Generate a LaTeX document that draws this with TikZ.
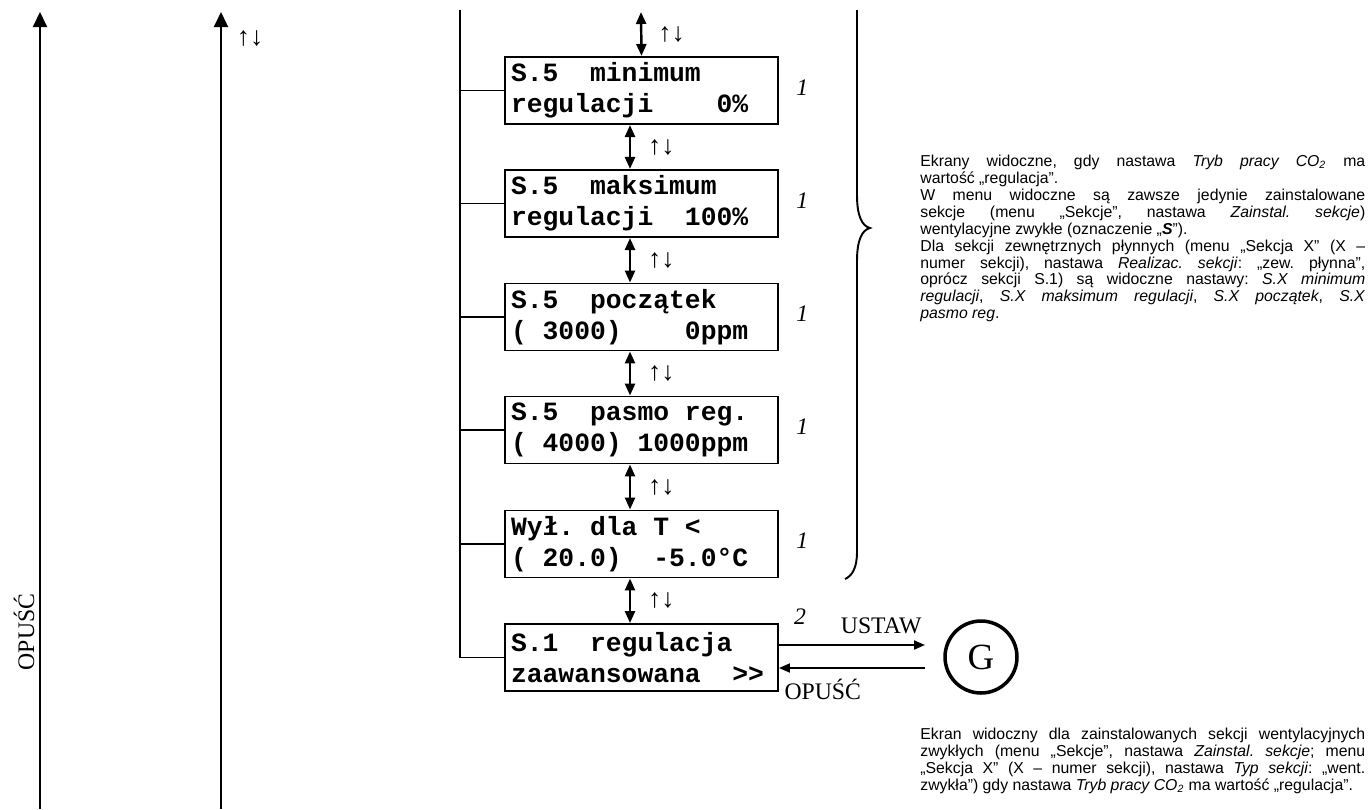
\documentclass[tikz,border=0pt]{standalone}
\usepackage{fontspec}
\setmainfont{Liberation Serif}
\newfontfamily\lcdfont{Liberation Mono}
\newfontfamily\notefont{Liberation Sans}
\usetikzlibrary{arrows.meta,positioning}
\newcommand{\lcdsp}{\hphantom{0}}
\tolerance=10000
\frenchspacing

\begin{document}
\begin{tikzpicture}[x=0.02cm, y=-0.02cm,
    screen/.style={draw, line width=1.1pt, minimum width=5.46cm, minimum height=1.34cm, text width=5.22cm, inner xsep=0.12cm, align=left, font=\lcdfont\bfseries\fontsize{15}{17.5}\selectfont},
    updown/.style={{Triangle[length=0.24cm, width=0.2cm]}-{Triangle[length=0.24cm, width=0.2cm]}, line width=1.4pt},
    uparrow/.style={-{Triangle[length=0.3cm, width=0.28cm]}, line width=1.1pt},
    keyarrow/.style={-{Triangle[length=0.22cm, width=0.18cm]}, line width=1.1pt},
    dirs/.style={inner sep=0pt, font=\fontsize{15}{15}\selectfont},
    num/.style={inner sep=0pt, font=\itshape\fontsize{13.5}{13.5}\selectfont},
    keylbl/.style={inner sep=0pt, font=\fontsize{13.5}{13.5}\selectfont},
    note/.style={text width=8.9cm, align=justify, inner sep=0pt, font=\notefont\fontsize{9}{9.6}\selectfont}
]
\useasboundingbox (0,0) rectangle (1370,809);

% outer columns
\coordinate (o1b) at (40,809);
\coordinate (o1t) at (40,12);
\coordinate (o2b) at (221,809);
\coordinate (o2t) at (221,12);
\draw[uparrow] (o1b) -- (o1t);
\draw[uparrow] (o2b) -- (o2t);
\node[keylbl, rotate=90] (opl) at (24,632) {OPUŚĆ};
\node[dirs] (ud0) at (250,38) {↑↓};

% screens
\node[screen] (s1) at (641.5,90.5) {S.5\lcdsp\lcdsp minimum\\regulacji\lcdsp\lcdsp\lcdsp\lcdsp 0\%};
\node[screen] (s2) at (641.5,203.5) {S.5\lcdsp\lcdsp maksimum\\regulacji\lcdsp\lcdsp 100\%};
\node[screen] (s3) at (641.5,317) {S.5\lcdsp\lcdsp początek\\(\lcdsp 3000)\lcdsp\lcdsp\lcdsp\lcdsp 0ppm};
\node[screen] (s4) at (641.5,430) {S.5\lcdsp\lcdsp pasmo\lcdsp reg.\\(\lcdsp 4000)\lcdsp 1000ppm};
\node[screen] (s5) at (641.5,544) {Wył.\lcdsp dla\lcdsp T\lcdsp <\\(\lcdsp 20.0)\lcdsp\lcdsp -5.0°C};
\node[screen] (s6) at (641.5,657.5) {S.1\lcdsp\lcdsp regulacja\\zaawansowana\lcdsp\lcdsp >{}>};

% up/down between screens
\coordinate (top) at (641,12);
\coordinate (vx) at (630,0);
\draw[updown] (top) -- node[dirs, right=0.32cm] {↑↓} (s1.north);
\draw[updown] (s1.south -| vx) -- node[dirs, right=0.34cm] {↑↓} (s2.north -| vx);
\draw[updown] (s2.south -| vx) -- node[dirs, right=0.34cm] {↑↓} (s3.north -| vx);
\draw[updown] (s3.south -| vx) -- node[dirs, right=0.34cm] {↑↓} (s4.north -| vx);
\draw[updown] (s4.south -| vx) -- node[dirs, right=0.34cm] {↑↓} (s5.north -| vx);
\draw[updown] (s5.south -| vx) -- node[dirs, right=0.34cm] {↑↓} (s6.north -| vx);

% left bus
\coordinate (bus) at (460,10);
\draw[line width=1.1pt] (bus) |- (s6.west);
\draw[line width=1.1pt] (s1.west) -- (s1.west -| bus);
\draw[line width=1.1pt] (s2.west) -- (s2.west -| bus);
\draw[line width=1.1pt] (s3.west) -- (s3.west -| bus);
\draw[line width=1.1pt] (s4.west) -- (s4.west -| bus);
\draw[line width=1.1pt] (s5.west) -- (s5.west -| bus);

% footnote marks
\node[num, right=0.34cm of s1, yshift=0.06cm] (f1) {1};
\node[num, right=0.34cm of s2, yshift=0.06cm] (f2) {1};
\node[num, right=0.34cm of s3, yshift=0.06cm] (f3) {1};
\node[num, right=0.34cm of s4, yshift=0.06cm] (f4) {1};
\node[num, right=0.34cm of s5, yshift=0.06cm] (f5) {1};
\node[num] (f6) at (800,617) {2};

% brace
\draw[line width=1.1pt] (857,10) -- (857,195) .. controls (857,216) and (862,226) .. (870,228)
    .. controls (862,230) and (857,240) .. (857,261) -- (857,552) .. controls (857,568) and (852,576) .. (845,579);

% G screen
\node[circle, draw, line width=2pt, minimum size=1.44cm, inner sep=0pt, font=\fontsize{21}{21}\selectfont] (g) at (981,657) {G};
\coordinate (go) at (925,645);
\coordinate (back) at (925,668);
\draw[keyarrow] (s6.east |- go) -- node[keylbl, pos=0.7, above=0.2cm] {USTAW} (go);
\draw[keyarrow] (back) -- node[keylbl, pos=0.7, below=0.2cm] {OPUŚĆ} (s6.east |- back);

% notes
\node[note, anchor=north west] (n1) at (920,155) {Ekrany widoczne, gdy nastawa \textit{Tryb pracy CO\textsubscript{2}} ma\linebreak
wartość „regulacja”.\par
W menu widoczne są zawsze jedynie zainstalowane\linebreak
sekcje (menu „Sekcje”, nastawa \textit{Zainstal. sekcje})\linebreak
wentylacyjne zwykłe (oznaczenie „\textbf{\textit{S}}”).\par
Dla sekcji zewnętrznych płynnych (menu „Sekcja X” (X –\linebreak
numer sekcji), nastawa \textit{Realizac. sekcji}: „zew. płynna”,\linebreak
oprócz sekcji S.1) są widoczne nastawy: \textit{S.X minimum}\linebreak
\textit{regulacji}, \textit{S.X maksimum regulacji}, \textit{S.X początek}, \textit{S.X}\linebreak
\textit{pasmo reg}.};
\node[note, anchor=north west] (n2) at (920,728) {Ekran widoczny dla zainstalowanych sekcji wentylacyjnych\linebreak
zwykłych (menu „Sekcje”, nastawa \textit{Zainstal. sekcje}; menu\linebreak
„Sekcja X” (X – numer sekcji), nastawa \textit{Typ sekcji}: „went.\linebreak
zwykła”) gdy nastawa \textit{Tryb pracy CO\textsubscript{2}} ma wartość „regulacja”.};
\end{tikzpicture}
\end{document}
